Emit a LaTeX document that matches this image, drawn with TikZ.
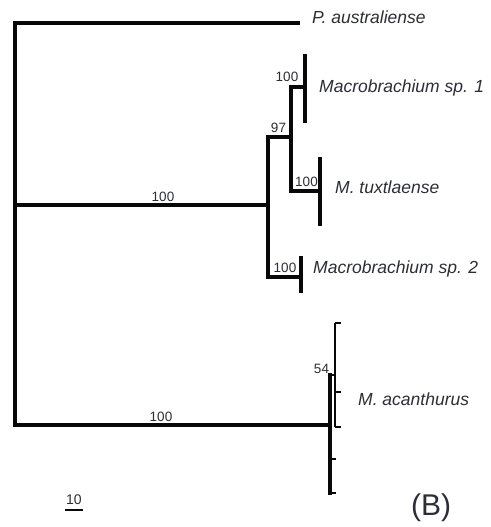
\documentclass[tikz,border=0pt]{standalone}
\usepackage{fontspec}
\setmainfont{Liberation Sans}
\usetikzlibrary{positioning}
\definecolor{TreeInk}{RGB}{8,8,8}
\definecolor{TreeText}{RGB}{45,45,55}

\begin{document}
\begin{tikzpicture}[x=1pt,y=-1pt,
  branch/.style={draw=TreeInk,line width=3.2pt,line cap=rect},
  tip/.style={draw=TreeInk,line width=3.2pt},
  taxon/.style={anchor=west,inner sep=0pt,text=TreeText,font=\fontsize{17.5}{20}\selectfont\itshape},
  boot/.style={inner sep=0pt,text=TreeText,font=\fontsize{13.5}{15}\selectfont}]
  \useasboundingbox (0,0) rectangle (490,527);
  \coordinate (rt) at (15,23);
  \coordinate (rm) at (15,205);
  \coordinate (rb) at (15,425);
  \coordinate (pa) at (298,23);
  \coordinate (na) at (268,205);
  \coordinate (nat) at (268,137);
  \coordinate (nab) at (268,277);
  \coordinate (nc) at (291,137);
  \coordinate (nct) at (291,87);
  \coordinate (ncb) at (291,191);
  \coordinate (sa) at (305,87);
  \coordinate (sat) at (305,54);
  \coordinate (sab) at (305,123);
  \coordinate (tx) at (320,191);
  \coordinate (txt) at (320,157);
  \coordinate (txb) at (320,226);
  \coordinate (sb) at (301,277);
  \coordinate (sbt) at (301,256);
  \coordinate (sbb) at (301,293);
  \coordinate (nb) at (330,425);
  \coordinate (nbt) at (330,375);
  \coordinate (nbb) at (330,493);
  \coordinate (nd) at (335,375);
  \coordinate (ndt) at (335,323);
  \coordinate (ndb) at (335,427);
  \draw[branch] (pa) -- (rt) -- (rb) -- (nb);
  \draw[branch] (rm) -- (na);
  \draw[branch] (nat) -- (nab);
  \draw[branch] (nab) -- (sb);
  \draw[branch] (nat) -- (nc);
  \draw[branch] (nct) -- (ncb);
  \draw[branch] (nct) -- (sa);
  \draw[branch] (ncb) -- (tx);
  \draw[tip] (sat) -- (sab);
  \draw[tip] (txt) -- (txb);
  \draw[tip] (sbt) -- (sbb);
  \draw[branch] (nbt) -- (nbb);
  \draw[tip,line width=2.6pt] (nbt) -- (nd);
  \draw[tip,line width=2.6pt] (ndt) -- (ndb);
  \foreach \y in {323,392,427} \draw[tip,line width=2.2pt] (335,\y) -- (341,\y);
  \foreach \y in {459,493} \draw[tip,line width=2.2pt] (330,\y) -- (336,\y);
  \node[taxon] (lpa) at (312,17) {P. australiense};
  \node[taxon] (lsa) at (319,88) {Macrobrachium sp. 1};
  \node[taxon] (ltx) at (335,187) {M. tuxtlaense};
  \node[taxon] (lsb) at (313,269) {Macrobrachium sp. 2};
  \node[taxon] (lac) at (358,399) {M. acanthurus};
  \node[boot] (b1) at (163,197) {100};
  \node[boot] (b2) at (278.5,128) {97};
  \node[boot] (b3) at (287,77) {100};
  \node[boot] (b4) at (306.5,182) {100};
  \node[boot] (b5) at (285,267.5) {100};
  \node[boot] (b6) at (161,416.5) {100};
  \node[boot] (b7) at (321.5,369) {54};
  \node[boot,font=\fontsize{14}{15}\selectfont] (sc) at (74,500) {10};
  \draw[TreeInk,line width=2.6pt] (65,510) coordinate (scl) -- (83,510) coordinate (scr);
  \node[inner sep=0pt,text=TreeText,font=\fontsize{30}{32}\selectfont] (lab) at (431,508) {(B)};
\end{tikzpicture}
\end{document}
